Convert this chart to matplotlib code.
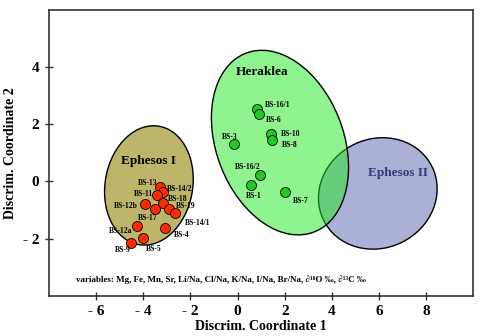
import matplotlib
matplotlib.use("Agg")
import matplotlib.pyplot as plt
from matplotlib.patches import Ellipse

plt.rcParams['font.family'] = ['Liberation Serif', 'DejaVu Serif']
plt.rcParams['font.weight'] = 'bold'

# Ephesos I samples
eph_names = ['BS-13', 'BS-14/2', 'BS-11', 'BS-12b', 'BS-18', 'BS-17', 'BS-19',
             'BS-14/1', 'BS-12a', 'BS-4', 'BS-5', 'BS-9']
eph_x = [-3.31, -3.17, -3.41, -3.93, -3.15, -3.52, -2.91, -2.67, -4.25, -3.06, -4.01, -4.50]
eph_y = [-0.19, -0.36, -0.49, -0.80, -0.77, -0.98, -0.96, -1.11, -1.57, -1.64, -1.99, -2.16]

# Heraklea samples
her_names = ['BS-16/1', 'BS-6', 'BS-10', 'BS-8', 'BS-3', 'BS-16/2', 'BS-1', 'BS-7']
her_x = [0.83, 0.90, 1.43, 1.45, -0.13, 0.97, 0.55, 2.03]
her_y = [2.55, 2.37, 1.65, 1.45, 1.31, 0.22, -0.14, -0.38]

xticks = [-6, -4, -2, 0, 2, 4, 6, 8]
xtick_labels = ['- 6', '- 4', '- 2', '0', '2', '4', '6', '8']
yticks = [-2, 0, 2, 4]
ytick_labels = ['- 2', '0', '2', '4']

# label offsets in pixels (dx, dy, ha)
eph_off = [(-2, 4, 'right'), (4, 3, 'left'), (-4, 1, 'right'), (-7, -2, 'right'),
           (5, 4, 'left'), (3, -9, 'right'), (7, 3, 'left'), (10, -10, 'left'),
           (-5, -5, 'right'), (8, -7, 'left'), (3, -11, 'left'), (-1, -7, 'right')]
her_off = [(8, 4, 'left'), (7, -6, 'left'), (10, 0, 'left'), (10, -5, 'left'),
           (3, 7, 'right'), (0, 8, 'right'), (3, -11, 'center'), (7, -9, 'left')]

fig = plt.figure(figsize=(4.8, 3.36), dpi=100)
ax = fig.add_axes([0.102, 0.12, 0.884, 0.85])
ax.set_xlim(-8, 10)
ax.set_ylim(-4, 6)

e1 = Ellipse((-3.76, -0.14), 4.26, 3.67, angle=67.4, facecolor='#bdb56a',
             edgecolor='black', lw=1.0, zorder=1)
e2 = Ellipse((5.95, -0.42), 5.06, 3.87, angle=8.9, facecolor='#aab0d6',
             edgecolor='black', lw=1.0, zorder=1)
h_face = Ellipse((1.80, 1.36), 6.97, 5.20, angle=124.2, facecolor='#21eb21',
                 alpha=0.5, edgecolor='none', zorder=2)
h_edge = Ellipse((1.80, 1.36), 6.97, 5.20, angle=124.2, facecolor='none',
                 edgecolor='black', lw=1.0, zorder=2)
for p in (e1, e2, h_face, h_edge):
    ax.add_patch(p)

ax.scatter(eph_x, eph_y, s=52, c='#ff2a00', edgecolors='black', linewidths=0.6, zorder=3)
ax.scatter(her_x, her_y, s=52, c='#22c922', edgecolors='black', linewidths=0.6, zorder=3)

for names, xs, ys, offs in ((eph_names, eph_x, eph_y, eph_off),
                            (her_names, her_x, her_y, her_off)):
    for n, x, y, (dx, dy, ha) in zip(names, xs, ys, offs):
        ax.annotate(n, (x, y), xytext=(dx, dy), textcoords='offset pixels',
                    ha=ha, va='center', fontsize=5.5, fontweight='bold', zorder=4)

ax.text(-3.77, 0.71, 'Ephesos I', ha='center', va='center', fontsize=9.5, fontweight='bold')
ax.text(1.02, 3.84, 'Heraklea', ha='center', va='center', fontsize=9.5, fontweight='bold')
ax.text(6.81, 0.31, 'Ephesos II', ha='center', va='center', fontsize=9.5,
        fontweight='bold', color='#323a6e')
ax.text(-6.85, -3.45, 'variables: Mg, Fe, Mn, Sr, Li/Na, Cl/Na, K/Na, I/Na, Br/Na, '
        '\u2202\u00b9\u2078O \u2030, \u2202\u00b9\u00b3C \u2030',
        ha='left', va='center', fontsize=6.5, fontweight='bold')

ax.set_xticks(xticks)
ax.set_xticklabels(xtick_labels)
ax.set_yticks(yticks)
ax.set_yticklabels(ytick_labels)
ax.tick_params(direction='inout', length=6, width=1.0, labelsize=11, pad=4, color='#333333')
ax.set_xlabel('Discrim. Coordinate 1', fontsize=10, fontweight='bold', labelpad=1)
ax.set_ylabel('Discrim. Coordinate 2', fontsize=10, fontweight='bold', labelpad=4)
for s in ax.spines.values():
    s.set_linewidth(1.2)
    s.set_color('#333333')

fig.savefig('out.png', dpi=100)
